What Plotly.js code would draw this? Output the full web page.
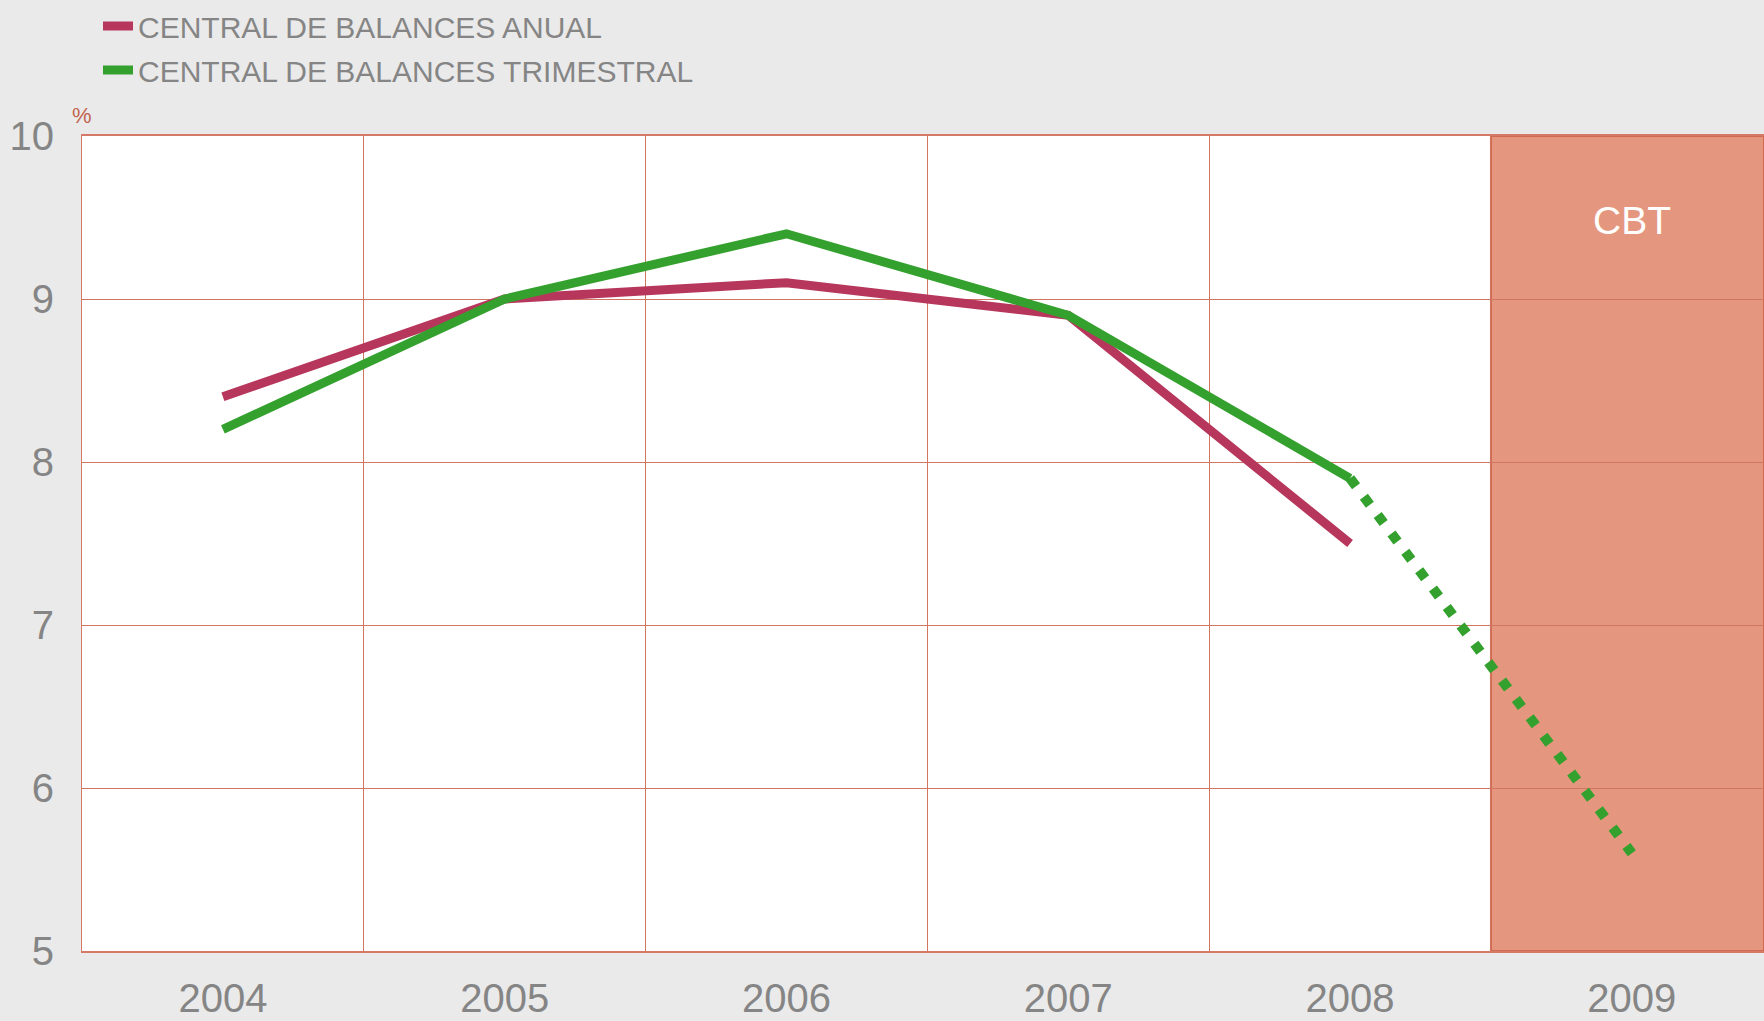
<!DOCTYPE html>
<html>
<head>
<meta charset="utf-8">
<script src="https://cdn.plot.ly/plotly-3.0.1.min.js"></script>
<style>
html,body{margin:0;padding:0;background:#eaeaea;}
#chart{width:1764px;height:1021px;}
</style>
</head>
<body>
<div id="chart"></div>
<script>
const years = ['2004','2005','2006','2007','2008','2009'];
const anualYears = ['2004','2005','2006','2007','2008'];
const anual = [8.4, 9.0, 9.1, 8.9, 7.5];
const trimYears = ['2004','2005','2006','2007','2008'];
const trimestral = [8.2, 9.0, 9.4, 8.9, 7.9];
const projYears = ['2008','2009'];
const projection = [7.9, 5.6];
const yTicks = [5, 6, 7, 8, 9, 10];
const seriesNames = ['CENTRAL DE BALANCES ANUAL', 'CENTRAL DE BALANCES TRIMESTRAL'];
const shadeLabel = 'CBT';

const magenta = '#b7365c';
const green = '#34a12e';
const grid = '#cf7560';
const legendFont = {family: 'Liberation Sans, Arial, sans-serif', size: 30, color: '#858585'};

const traces = [
  {x: anualYears, y: anual, type: 'scatter', mode: 'lines', name: seriesNames[0],
   line: {color: magenta, width: 9}, legend: 'legend', hoverinfo: 'skip'},
  {x: trimYears, y: trimestral, type: 'scatter', mode: 'lines', name: seriesNames[1],
   line: {color: green, width: 9}, legend: 'legend2', hoverinfo: 'skip'},
  {x: projYears, y: projection, type: 'scatter', mode: 'lines', name: seriesNames[1] + ' (proy.)',
   line: {color: green, width: 10, dash: '10px,13px'}, showlegend: false, hoverinfo: 'skip'}
];

const plotTopPx = 135, plotBottomPx = 951, plotH = plotBottomPx - plotTopPx;
const legendLeft = (98 - 82) / 1682;

const layout = {
  width: 1764, height: 1021,
  paper_bgcolor: '#eaeaea', plot_bgcolor: '#ffffff',
  margin: {l: 82, r: 0, t: 135, b: 70, pad: 0},
  font: {family: 'Liberation Sans, Arial, sans-serif', color: '#858585'},
  xaxis: {
    type: 'category', categoryorder: 'array', categoryarray: years,
    range: [-0.5, 5.469], tickson: 'boundaries',
    showgrid: true, gridcolor: grid, gridwidth: 1,
    ticks: '', tickfont: {size: 40, color: '#858585'}, ticklabelstandoff: 11,
    showline: true, linecolor: '#d47a66', linewidth: 2, mirror: true,
    zeroline: false, fixedrange: true
  },
  yaxis: {
    range: [5, 10], tickvals: yTicks, ticktext: yTicks.map(String),
    showgrid: true, gridcolor: grid, gridwidth: 1,
    ticks: '', tickfont: {size: 40, color: '#858585'}, ticklabelstandoff: 19,
    showline: true, linecolor: '#d47a66', linewidth: 1, mirror: true,
    zeroline: false, fixedrange: true
  },
  shapes: [
    {type: 'rect', xref: 'x', yref: 'y', x0: 4.5, x1: 5.469, y0: 5, y1: 10,
     fillcolor: '#e4977e', line: {color: '#d06a50', width: 2}, layer: 'below'}
  ],
  annotations: [
    {text: shadeLabel, xref: 'x', yref: 'y', x: 5.0, y: 9.48, showarrow: false,
     font: {size: 39, color: '#ffffff', family: 'Liberation Sans, Arial, sans-serif'}},
    {text: '%', xref: 'paper', yref: 'paper', x: 0, y: 1 + (plotTopPx - 114) / plotH,
     xanchor: 'center', yanchor: 'middle', showarrow: false,
     font: {size: 22, color: '#c2644f'}}
  ],
  legend: {x: legendLeft, y: 1 + (plotTopPx - 25) / plotH, xanchor: 'left', yanchor: 'middle',
    bgcolor: 'rgba(0,0,0,0)', font: legendFont, borderwidth: 0},
  legend2: {x: legendLeft, y: 1 + (plotTopPx - 70) / plotH, xanchor: 'left', yanchor: 'middle',
    bgcolor: 'rgba(0,0,0,0)', font: legendFont, borderwidth: 0},
  showlegend: true
};

Plotly.newPlot('chart', traces, layout, {staticPlot: true, displayModeBar: false});
</script>
</body>
</html>
